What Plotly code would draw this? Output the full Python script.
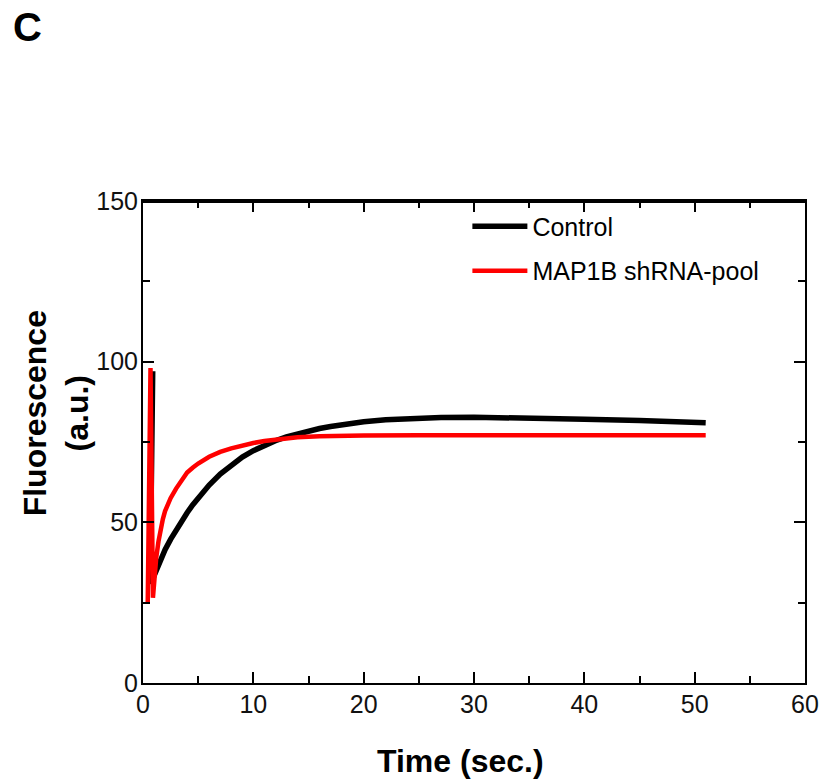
import plotly.graph_objects as go

# Control (black)
control_t = [0.88, 0.65, 0.9, 1.3, 1.6, 2, 2.5, 3, 3.5, 4, 4.5, 5, 6, 7, 8, 9, 10, 11, 12, 13, 14, 15,
             16, 17, 18, 20, 22, 24, 27, 30, 33, 36, 40, 45, 51]
control_v = [97, 31, 32.5, 36, 38.5, 41.5, 44.7, 47.7, 50.5, 53, 55.4, 57.6, 61.6, 65, 67.9, 70.3, 72.3, 74, 75.4, 76.6, 77.6, 78.5,
             79.2, 79.8, 80.4, 81.3, 81.9, 82.3, 82.6, 82.7, 82.6, 82.4, 82.1, 81.7, 81.0]

# MAP1B shRNA-pool (red)
shrna_t = [0.43, 0.68, 0.9, 1.0, 1.2, 1.4, 1.6, 1.8, 2.0, 2.5, 3, 3.5, 4, 4.5, 5, 6, 7, 8, 9, 10, 11, 12, 13,
           14, 16, 18, 20, 25, 30, 35, 40, 45, 51]
shrna_v = [25, 98, 26.5, 32, 39, 44, 48, 51, 53.5, 57.5, 60.5, 63.3, 65.5, 67, 68.3, 70.4, 71.9, 73, 73.9, 74.7, 75.3, 75.8, 76.2,
           76.5, 76.8, 76.95, 77.05, 77.1, 77.1, 77.1, 77.1, 77.1, 77.1]

x_ticks = [0, 10, 20, 30, 40, 50, 60]
y_ticks = [0, 50, 100, 150]

sans = "Liberation Sans, Arial, sans-serif"

fig = go.Figure()
fig.add_trace(go.Scatter(x=control_t, y=control_v, mode="lines", name="Control",
                         line=dict(color="black", width=5.5), legendgroup="a"))
fig.add_trace(go.Scatter(x=shrna_t, y=shrna_v, mode="lines", name="MAP1B shRNA-pool",
                         line=dict(color="#ff0000", width=4.5), legendgroup="b"))

axis_common = dict(showgrid=False, zeroline=False, showline=True, linecolor="black",
                   linewidth=2, mirror="allticks", ticks="inside", ticklen=11,
                   tickwidth=2, tickcolor="black", ticklabelstandoff=-2,
                   tickfont=dict(family=sans, size=25, color="#111"))

fig.update_xaxes(range=[0, 60], tickvals=x_ticks, ticktext=[str(v) for v in x_ticks],
                 minor=dict(ticks="inside", ticklen=7, tickwidth=2, dtick=5, tick0=0, tickcolor="black"),
                 **axis_common)
fig.update_yaxes(range=[0, 150], tickvals=y_ticks, ticktext=[str(v) for v in y_ticks],
                 minor=dict(ticks="inside", ticklen=7, tickwidth=2, dtick=25, tick0=0, tickcolor="black"),
                 **axis_common)

# thicker top frame line
fig.add_shape(type="line", xref="paper", yref="paper", x0=0, x1=1, y0=1, y1=1,
              line=dict(color="black", width=4))

# axis titles
fig.add_annotation(text="<b>Fluorescence<br>(a.u.)</b>", xref="paper", yref="paper",
                   x=-0.131, y=0.560, xanchor="center", yanchor="middle", textangle=-90,
                   showarrow=False, font=dict(family=sans, size=32, color="black"))
fig.add_annotation(text="<b>Time (sec.)</b>", xref="paper", yref="paper",
                   x=0.479, y=-0.162, xanchor="center", yanchor="middle",
                   showarrow=False, font=dict(family=sans, size=32, color="black"))

fig.add_annotation(text="<b>C</b>", xref="paper", yref="paper", x=-0.2, y=1.41,
                   xanchor="left", yanchor="top", showarrow=False,
                   font=dict(family=sans, size=40, color="black"))

fig.update_layout(
    width=831, height=784,
    margin=dict(l=143, r=21, t=201, b=101),
    paper_bgcolor="white", plot_bgcolor="white",
    showlegend=True,
    legend=dict(x=0.49, y=0.995, xanchor="left", yanchor="top", bgcolor="rgba(0,0,0,0)",
                font=dict(family=sans, size=25, color="black"),
                itemwidth=55, tracegroupgap=9),
)

fig.write_html("out.html")
